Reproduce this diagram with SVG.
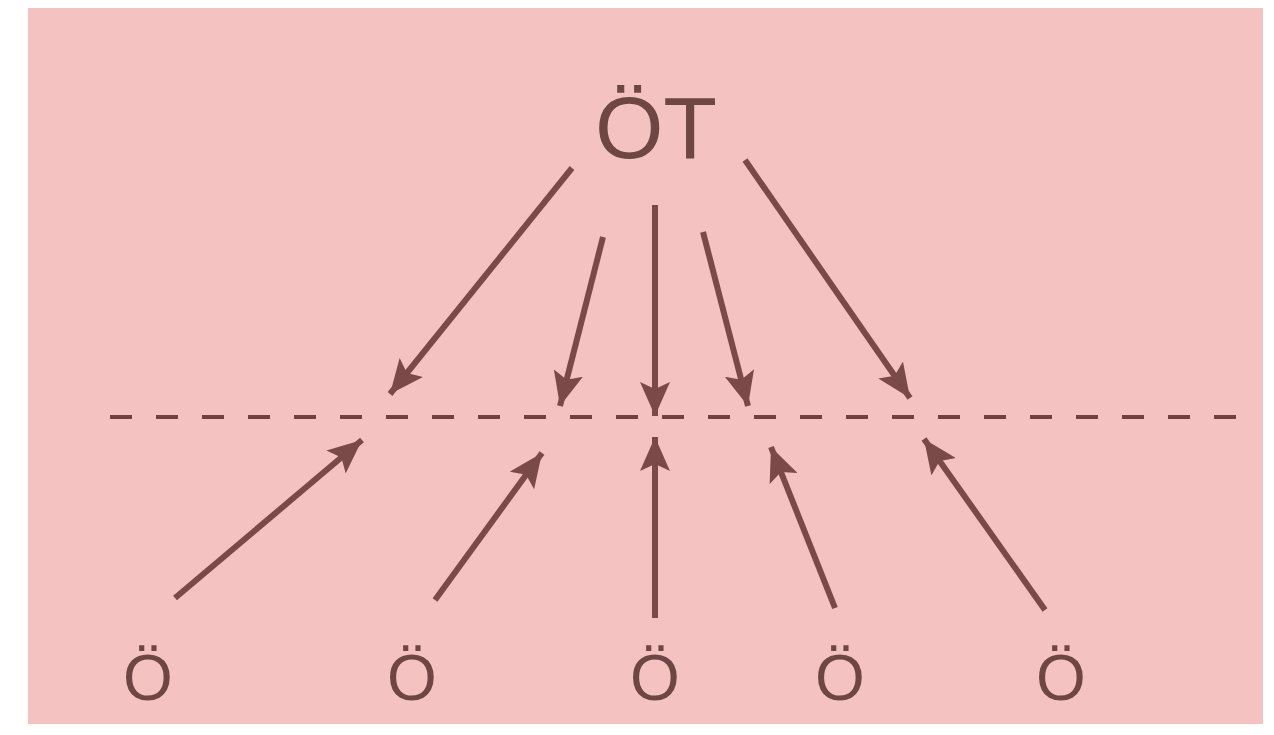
<svg xmlns="http://www.w3.org/2000/svg" width="1274" height="735" viewBox="0 0 1274 735">
<style>
.lbl{font-family:"Liberation Sans",Arial,sans-serif;fill:#6e4644;text-anchor:middle}
.arr{stroke:#7a4a48;stroke-width:6;fill:none;marker-end:url(#ah)}
.dash{stroke:#74403f;stroke-width:4;stroke-dasharray:22 24;fill:none}
</style>
<defs>
<marker id="ah" markerUnits="userSpaceOnUse" markerWidth="40" markerHeight="30" refX="34" refY="15" orient="auto">
<path d="M0,0 L34,15 L0,30 L7,15 Z" fill="#7a4a48"/>
</marker>
</defs>
<rect width="1274" height="735" fill="#ffffff"/>
<rect x="28" y="8" width="1235" height="716" fill="#f5c2c2"/>
<g id="top-node"><text class="lbl" x="656" y="158" font-size="88">ÖT</text></g>
<g id="b1"><text class="lbl" x="148" y="700" font-size="64">Ö</text></g>
<g id="b2"><text class="lbl" x="412" y="700" font-size="64">Ö</text></g>
<g id="b3"><text class="lbl" x="655" y="700" font-size="64">Ö</text></g>
<g id="b4"><text class="lbl" x="840" y="700" font-size="64">Ö</text></g>
<g id="b5"><text class="lbl" x="1061" y="700" font-size="64">Ö</text></g>
<g id="connectors">
<line class="dash" x1="110" y1="417" x2="1250" y2="417"/>
<line class="arr" x1="572" y1="168" x2="390" y2="394"/>
<line class="arr" x1="603" y1="237" x2="560" y2="406"/>
<line class="arr" x1="655" y1="205" x2="655" y2="416"/>
<line class="arr" x1="703" y1="232" x2="748" y2="406"/>
<line class="arr" x1="745" y1="160" x2="910" y2="398"/>
<line class="arr" x1="175" y1="598" x2="362" y2="440"/>
<line class="arr" x1="435" y1="600" x2="542" y2="453"/>
<line class="arr" x1="655" y1="618" x2="655" y2="437"/>
<line class="arr" x1="835" y1="608" x2="771" y2="447"/>
<line class="arr" x1="1045" y1="610" x2="924" y2="439"/>
</g>
</svg>
